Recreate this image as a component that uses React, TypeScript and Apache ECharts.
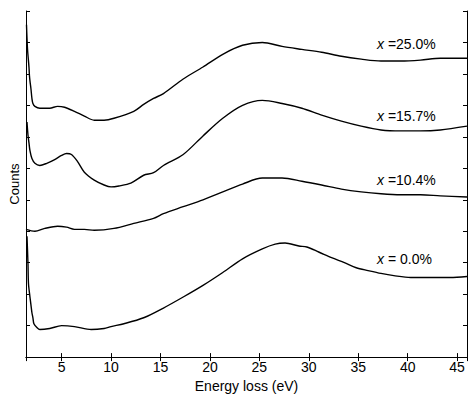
import React, { useEffect, useRef } from "react";
import * as echarts from "echarts";

// x = 0.0%
const energy00 = [1.5, 1.6, 1.65, 1.8, 1.9, 2.0, 2.1, 2.2, 2.5, 2.8, 3.8, 5.0, 6.3, 8.0, 9.3, 10.0, 11.3, 13.3, 15.3, 17.3, 19.3, 21.3, 23.3, 25.3, 26.6, 27.6, 29.0, 29.8, 31.0, 32.3, 33.6, 34.8, 36.0, 37.3, 38.6, 40.3, 42.6, 44.3, 46.0];
const counts00 = [3.84, 2.97, 2.34, 1.91, 1.66, 1.41, 1.25, 1.06, 0.94, 0.875, 0.91, 1.0, 0.97, 0.875, 0.91, 0.97, 1.06, 1.25, 1.56, 1.91, 2.28, 2.69, 3.125, 3.44, 3.59, 3.625, 3.53, 3.5, 3.34, 3.16, 3.0, 2.84, 2.75, 2.66, 2.59, 2.53, 2.53, 2.53, 2.56];

// x = 10.4%
const energy104 = [1.4, 2.3, 3.3, 4.6, 5.5, 6.3, 7.3, 8.3, 10.3, 12.3, 14.3, 15.3, 17.3, 19.3, 21.3, 23.3, 25.3, 27.3, 29.3, 31.3, 33.3, 35.3, 37.3, 39.3, 41.3, 43.3, 46.0];
const counts104 = [4.06, 4.0, 4.09, 4.16, 4.13, 4.06, 4.06, 4.03, 4.09, 4.25, 4.41, 4.56, 4.78, 5.0, 5.25, 5.5, 5.69, 5.69, 5.59, 5.47, 5.34, 5.25, 5.19, 5.16, 5.16, 5.125, 5.09];

// x = 15.7%
const energy157 = [1.5, 1.6, 1.7, 1.8, 2.0, 2.3, 2.8, 3.5, 4.3, 5.0, 5.5, 6.0, 6.6, 7.3, 8.3, 9.3, 10.0, 10.8, 12.0, 13.3, 14.3, 15.3, 17.3, 19.3, 21.3, 23.3, 25.3, 27.3, 29.3, 31.3, 33.3, 35.3, 37.3, 39.3, 41.3, 43.3, 46.0];
const counts157 = [7.47, 7.06, 6.81, 6.56, 6.31, 6.16, 6.09, 6.16, 6.28, 6.41, 6.47, 6.44, 6.22, 5.875, 5.625, 5.47, 5.41, 5.44, 5.53, 5.78, 5.86, 6.09, 6.44, 7.03, 7.59, 8.0, 8.16, 8.06, 7.91, 7.69, 7.5, 7.34, 7.22, 7.19, 7.19, 7.22, 7.34];

// x = 25.0%
const energy250 = [1.45, 1.55, 1.7, 1.75, 1.8, 1.9, 2.0, 2.1, 2.3, 2.8, 3.8, 4.6, 5.3, 6.3, 7.3, 8.3, 9.3, 10.3, 12.3, 13.3, 14.3, 15.3, 17.3, 19.3, 21.3, 23.3, 25.3, 27.3, 29.3, 31.3, 33.3, 35.3, 37.3, 39.3, 41.3, 43.3, 46.0];
const counts250 = [10.56, 9.81, 9.22, 8.94, 8.78, 8.53, 8.22, 8.06, 7.97, 7.91, 7.91, 7.97, 7.94, 7.81, 7.66, 7.53, 7.53, 7.59, 7.81, 8.03, 8.22, 8.375, 8.84, 9.22, 9.625, 9.91, 10.0, 9.875, 9.78, 9.69, 9.56, 9.47, 9.41, 9.41, 9.44, 9.5, 9.5];

const seriesLabels = [" =25.0%", " =15.7%", " =10.4%", " = 0.0%"];
const labelTops = [37, 109, 173, 252];

const FONT = "'Liberation Sans', Arial, Helvetica, sans-serif";

function pairs(e: number[], c: number[]) {
  return e.map((x, i) => [x, c[i]]);
}

export default function App() {
  const ref = useRef<HTMLDivElement>(null);
  useEffect(() => {
    const chart = echarts.init(ref.current!, null, { renderer: "svg" });
    const axisLine = { show: true, lineStyle: { color: "#000", width: 1 } };
    const tick = { show: true, inside: true, length: 4, lineStyle: { color: "#000", width: 1 } };
    const xBase = {
      type: "value" as const,
      min: 1.4,
      max: 46,
      splitNumber: 9,
      minInterval: 5,
      maxInterval: 5,
      axisLine,
      axisTick: tick,
      splitLine: { show: false },
    };
    const yBase = {
      type: "value" as const,
      min: 0,
      max: 11,
      interval: 1,
      axisLine,
      axisTick: tick,
      axisLabel: { show: false },
      splitLine: { show: false },
    };
    const lineSeries = (data: number[][]) => ({
      type: "line" as const,
      data,
      showSymbol: false,
      symbol: "none",
      lineStyle: { color: "#000", width: 1.4 },
      smooth: 0.3,
      silent: true,
    });
    chart.setOption({
      animation: false,
      backgroundColor: "#fff",
      textStyle: { fontFamily: FONT },
      grid: { left: 21, right: 7, top: 11, bottom: 35, containLabel: false },
      xAxis: [
        {
          ...xBase,
          position: "bottom",
          axisLabel: {
            show: true,
            margin: 3,
            fontSize: 14,
            color: "#000",
            fontFamily: FONT,
            showMinLabel: false,
            showMaxLabel: false,
            formatter: (v: number) => (v % 5 === 0 ? String(v) : ""),
          },
          name: "Energy loss (eV)",
          nameLocation: "middle",
          nameGap: 14,
          nameTextStyle: { fontSize: 14, color: "#000", fontFamily: FONT },
        },
        { ...xBase, position: "top", axisLabel: { show: false } },
      ],
      yAxis: [
        {
          ...yBase,
          position: "left",
          name: "Counts",
          nameLocation: "middle",
          nameGap: 5,
          nameTextStyle: { fontSize: 13, color: "#000", fontFamily: FONT },
        },
        { ...yBase, position: "right" },
      ],
      series: [
        lineSeries(pairs(energy00, counts00)),
        lineSeries(pairs(energy104, counts104)),
        lineSeries(pairs(energy157, counts157)),
        lineSeries(pairs(energy250, counts250)),
      ],
      graphic: seriesLabels.map((t, i) => ({
        type: "text",
        left: 377,
        top: labelTops[i],
        style: {
          text: "{it|x}" + t,
          fontSize: 14,
          fontFamily: FONT,
          fill: "#000",
          rich: { it: { fontStyle: "italic", fontSize: 14, fontFamily: FONT, fill: "#000" } },
        },
      })),
    });
    return () => chart.dispose();
  }, []);
  return <div ref={ref} style={{ position: "fixed", left: 0, top: 0, width: 474, height: 398 }} />;
}
